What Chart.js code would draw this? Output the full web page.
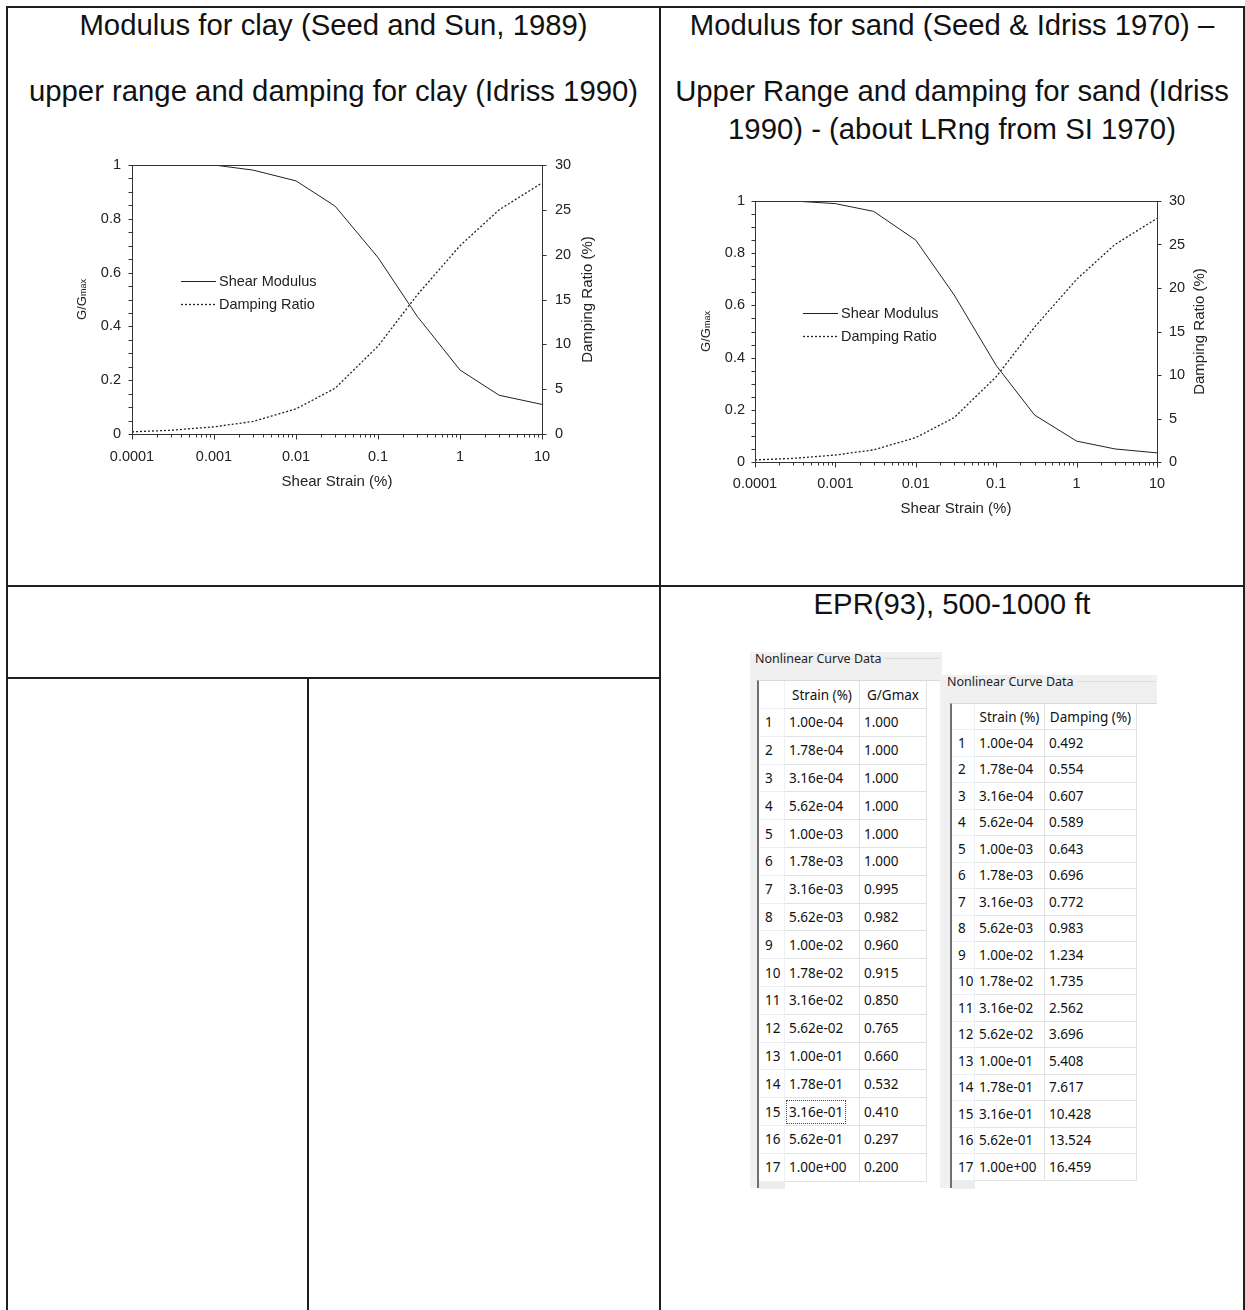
<!DOCTYPE html>
<html>
<head>
<meta charset="utf-8">
<script src="https://cdn.jsdelivr.net/npm/chart.js@4.4.1/dist/chart.umd.min.js"></script>
<style>
  body { margin: 0; background: #fff; width: 1245px; height: 1310px; position: relative; overflow: hidden; }
  .ln { position: absolute; background: #1e1e1e; }
  .ttl { position: absolute; font-family: 'Liberation Sans', Arial, sans-serif; font-size: 29.3px; color: #111;
         line-height: 30px; white-space: nowrap; text-align: center; }
  .cv { position: absolute; }
  .panel { position: absolute; background: #f0f0f0; }
  .glabel { position: absolute; font-family: 'Noto Sans', sans-serif; font-size: 12.5px; color: #222; white-space: nowrap; line-height: 16px; }
  .gline { position: absolute; height: 1px; background: #dcdcdc; }
  .grid { position: absolute; background: #fff; border-left: 2px solid #707070; border-top: 1px solid #dadada; box-sizing: border-box; }
  .row { position: absolute; left: 0; display: flex; }
  .cell { box-sizing: border-box; border-right: 1px solid #e2e2e2; border-bottom: 1px solid #e2e2e2; height: 100%;
          font-family: 'Noto Sans', sans-serif; font-size: 13.5px; color: #111; display: flex; align-items: center;
          padding-left: 4px; white-space: nowrap; }
  .cell.num { border-color: #edf1f6; padding-left: 6px; }
  .cell.hd { justify-content: center; padding-left: 0; }
  .cell.focus span { outline: 1px dotted #444; outline-offset: 2px; }
  .foot { position: absolute; background: #ececec; }
</style>
</head>
<body>

<!-- document table borders -->
<div class="ln" style="left:6px; top:6px; width:1239px; height:2px;"></div>
<div class="ln" style="left:6px; top:6px; width:2px; height:1304px;"></div>
<div class="ln" style="left:659px; top:6px; width:2px; height:1304px;"></div>
<div class="ln" style="left:1243px; top:6px; width:2px; height:1304px;"></div>
<div class="ln" style="left:6px; top:585px; width:1239px; height:2px;"></div>
<div class="ln" style="left:6px; top:677px; width:655px; height:2px;"></div>
<div class="ln" style="left:307px; top:677px; width:2px; height:633px;"></div>

<!-- cell titles -->
<div class="ttl" style="left:8px; width:651px; top:10px;">Modulus for clay (Seed and Sun, 1989)</div>
<div class="ttl" style="left:8px; width:651px; top:76px;">upper range and damping for clay (Idriss 1990)</div>
<div class="ttl" style="left:661px; width:582px; top:10px;">Modulus for sand (Seed &amp; Idriss 1970) –</div>
<div class="ttl" style="left:661px; width:582px; top:76px;">Upper Range and damping for sand (Idriss</div>
<div class="ttl" style="left:661px; width:582px; top:114px;">1990) - (about LRng from SI 1970)</div>
<div class="ttl" style="left:661px; width:582px; top:589px;">EPR(93), 500-1000 ft</div>

<canvas id="clay" class="cv" width="560" height="350" style="left:60px; top:150px;"></canvas>
<canvas id="sand" class="cv" width="560" height="345" style="left:680px; top:185px;"></canvas>

<div id="tables"></div>

<script>
// chart data
const strainPts = [0.0001, 0.0003, 0.001, 0.003, 0.01, 0.03, 0.1, 0.3, 1, 3, 10];
const clayModulus = [1.0, 1.0, 1.0, 0.981, 0.941, 0.847, 0.656, 0.438, 0.238, 0.144, 0.110];
const clayDamping = [0.24, 0.42, 0.8, 1.4, 2.8, 5.1, 9.8, 15.5, 21.0, 25.0, 28.0];
const sandModulus = [1.0, 1.0, 0.99, 0.96, 0.85, 0.64, 0.37, 0.18, 0.08, 0.05, 0.035];
const sandDamping = [0.24, 0.42, 0.8, 1.4, 2.8, 5.1, 9.8, 15.5, 21.0, 25.0, 28.0];

// axis ticks
const xTickValues = [0.0001, 0.001, 0.01, 0.1, 1, 10];
const xTickLabels = ['0.0001', '0.001', '0.01', '0.1', '1', '10'];
const yTickValues = [0, 0.2, 0.4, 0.6, 0.8, 1];
const yTickLabels = ['0', '0.2', '0.4', '0.6', '0.8', '1'];
const y2TickValues = [0, 5, 10, 15, 20, 25, 30];
const y2TickLabels = ['0', '5', '10', '15', '20', '25', '30'];

// EPR(93) table data
const tableStrains = ['1.00e-04', '1.78e-04', '3.16e-04', '5.62e-04', '1.00e-03', '1.78e-03', '3.16e-03', '5.62e-03',
  '1.00e-02', '1.78e-02', '3.16e-02', '5.62e-02', '1.00e-01', '1.78e-01', '3.16e-01', '5.62e-01', '1.00e+00'];
const tableModulus = ['1.000', '1.000', '1.000', '1.000', '1.000', '1.000', '0.995', '0.982', '0.960', '0.915',
  '0.850', '0.765', '0.660', '0.532', '0.410', '0.297', '0.200'];
const tableDamping = ['0.492', '0.554', '0.607', '0.589', '0.643', '0.696', '0.772', '0.983', '1.234', '1.735',
  '2.562', '3.696', '5.408', '7.617', '10.428', '13.524', '16.459'];

const FONT = "'Liberation Sans', Arial, sans-serif";
Chart.defaults.font.family = FONT;
Chart.defaults.color = '#222';

// minor tick positions
const xMinor = [];
xTickValues.slice(0, -1).forEach(d => { for (let m = 2; m <= 9; m++) xMinor.push(d * m); });
const yMinor = [];
for (let i = 1; i < 20; i++) if (i % 4) yMinor.push(i * 0.05);

const framePlugin = {
  id: 'frame',
  afterDraw(chart, args, opts) {
    const { ctx, chartArea: a, scales } = chart;
    ctx.save();
    ctx.strokeStyle = '#333';
    ctx.lineWidth = 1;
    ctx.strokeRect(Math.round(a.left) + 0.5, Math.round(a.top) + 0.5, Math.round(a.right - a.left), Math.round(a.bottom - a.top));
    const seg = (x1, y1, x2, y2) => { ctx.beginPath(); ctx.moveTo(x1, y1); ctx.lineTo(x2, y2); ctx.stroke(); };
    const b = Math.round(a.bottom) + 0.5, l = Math.round(a.left) + 0.5, r = Math.round(a.right) + 0.5;
    xTickValues.forEach(v => { const x = Math.round(scales.x.getPixelForValue(v)) + 0.5; seg(x, b, x, b + 5); });
    xMinor.forEach(v => { const x = Math.round(scales.x.getPixelForValue(v)) + 0.5; seg(x, b, x, b + 3); });
    yTickValues.concat(yMinor).forEach(v => { const y = Math.round(scales.y.getPixelForValue(v)) + 0.5; seg(l - 4, y, l, y); });
    y2TickValues.forEach(v => { const y = Math.round(scales.y2.getPixelForValue(v)) + 0.5; seg(r, y, r + 4, y); });

    // axis titles
    ctx.fillStyle = '#222';
    ctx.textBaseline = 'middle';
    ctx.textAlign = 'center';
    ctx.font = '15px ' + FONT;
    ctx.fillText('Shear Strain (%)', (a.left + a.right) / 2, a.bottom + opts.xTitle);
    const cy = (a.top + a.bottom) / 2;
    ctx.save();
    ctx.translate(a.right + opts.y2Title, cy);
    ctx.rotate(-Math.PI / 2);
    ctx.fillText('Damping Ratio (%)', 0, 0);
    ctx.restore();
    ctx.save();
    ctx.translate(a.left + opts.yTitle, cy);
    ctx.rotate(-Math.PI / 2);
    ctx.textAlign = 'left';
    ctx.font = '13px ' + FONT;
    const w1 = ctx.measureText('G/G').width;
    ctx.font = '9px ' + FONT;
    const w2 = ctx.measureText('max').width;
    ctx.font = '13px ' + FONT;
    ctx.fillText('G/G', -(w1 + w2) / 2, 0);
    ctx.font = '9px ' + FONT;
    ctx.fillText('max', -(w1 + w2) / 2 + w1, 2);
    ctx.restore();

    // in-plot legend
    ctx.font = '14.5px ' + FONT;
    ctx.textAlign = 'left';
    chart.data.datasets.forEach((ds, i) => {
      const y = Math.round(a.top + opts.legY + i * 23) + 0.5;
      const x0 = a.left + opts.legX;
      ctx.setLineDash(ds.borderDash || []);
      ctx.lineWidth = ds.borderWidth;
      ctx.strokeStyle = ds.borderColor;
      seg(x0, y, x0 + 35, y);
      ctx.setLineDash([]);
      ctx.fillText(ds.label, x0 + 38, y);
    });
    ctx.restore();
  }
};

function makeChart(id, modulus, damping, g) {
  const pts = (vals) => strainPts.map((s, i) => ({ x: s, y: vals[i] }));
  const fitV = (w) => (s) => { s.width = w; s.paddingTop = 0; s.paddingBottom = 0; };
  return new Chart(document.getElementById(id), {
    type: 'line',
    data: {
      datasets: [
        { label: 'Shear Modulus', data: pts(modulus), yAxisID: 'y', borderColor: '#222', borderWidth: 1,
          pointRadius: 0, tension: 0, fill: false },
        { label: 'Damping Ratio', data: pts(damping), yAxisID: 'y2', borderColor: '#222', borderWidth: 1.3,
          borderDash: [2, 2], pointRadius: 0, tension: 0, fill: false }
      ]
    },
    options: {
      responsive: false,
      animation: false,
      events: [],
      layout: { padding: { top: g.top, left: 0, right: 0, bottom: 0 } },
      plugins: {
        legend: { display: false },
        tooltip: { enabled: false },
        frame: g.frame
      },
      scales: {
        x: {
          type: 'logarithmic', min: 0.0001, max: 10,
          grid: { display: false, drawTicks: false },
          border: { display: false },
          afterBuildTicks: (s) => { s.ticks = xTickValues.map(v => ({ value: v })); },
          afterFit: (s) => { s.height = g.xH; s.paddingLeft = 0; s.paddingRight = 0; },
          ticks: { autoSkip: false, maxRotation: 0, padding: g.xPad, font: { size: 14.5 },
                   callback: (v, i) => xTickLabels[i] }
        },
        y: {
          position: 'left', min: 0, max: 1,
          grid: { display: false, drawTicks: false },
          border: { display: false },
          afterBuildTicks: (s) => { s.ticks = yTickValues.map(v => ({ value: v })); },
          afterFit: fitV(g.yW),
          ticks: { padding: g.yPad, font: { size: 14.5 }, callback: (v, i) => yTickLabels[i] }
        },
        y2: {
          position: 'right', min: 0, max: 30,
          grid: { display: false, drawTicks: false },
          border: { display: false },
          afterBuildTicks: (s) => { s.ticks = y2TickValues.map(v => ({ value: v })); },
          afterFit: fitV(g.y2W),
          ticks: { padding: g.y2Pad, font: { size: 14.5 }, callback: (v, i) => y2TickLabels[i] }
        }
      }
    },
    plugins: [framePlugin]
  });
}

makeChart('clay', clayModulus, clayDamping, {
  top: 15, xH: 66, yW: 72, y2W: 78, xPad: 14, yPad: 11, y2Pad: 13,
  frame: { xTitle: 48, yTitle: -50, y2Title: 46, legX: 49, legY: 116 }
});
makeChart('sand', sandModulus, sandDamping, {
  top: 16, xH: 68, yW: 75, y2W: 83, xPad: 13, yPad: 10, y2Pad: 12,
  frame: { xTitle: 47, yTitle: -49, y2Title: 43, legX: 48, legY: 112 }
});

// "Nonlinear Curve Data" grids
function makeGrid(cfg, header, values, focusRow) {
  const root = document.getElementById('tables');
  const add = (cls, style, html) => {
    const d = document.createElement('div');
    d.className = cls; d.style.cssText = style;
    if (html) d.innerHTML = html;
    root.appendChild(d);
    return d;
  };
  add('panel', `left:${cfg.px}px; top:${cfg.py}px; width:${cfg.pw}px; height:${cfg.ph}px;`);
  const lab = add('glabel', `left:${cfg.px + 5}px; top:${cfg.py - 1}px;`, 'Nonlinear Curve Data');
  const lw = lab.getBoundingClientRect().width;
  add('gline', `left:${cfg.px + 8 + lw}px; top:${cfg.py + 6}px; width:${cfg.pw - 10 - lw}px;`);
  const grid = add('grid', `left:${cfg.gx}px; top:${cfg.gy}px; width:${cfg.gw}px; height:${cfg.gh}px;`);
  const cols = cfg.cols;
  const mkRow = (top, h, cells, hd) => {
    const r = document.createElement('div');
    r.className = 'row';
    r.style.cssText = `top:${top}px; height:${h}px;`;
    cells.forEach((txt, j) => {
      const c = document.createElement('div');
      c.className = 'cell' + (j === 0 ? ' num' : '') + (hd ? ' hd' : '');
      c.style.width = cols[j] + 'px';
      c.innerHTML = '<span>' + txt + '</span>';
      r.appendChild(c);
    });
    grid.appendChild(r);
    return r;
  };
  const hr = mkRow(0, cfg.hh, ['', header[0], header[1], ''], true);
  hr.lastChild.style.borderRight = 'none';
  hr.lastChild.style.borderBottom = 'none';
  tableStrains.forEach((s, i) => {
    const r = mkRow(cfg.hh + i * cfg.rh, cfg.rh, [String(i + 1), s, values[i]], false);
    if (i === focusRow) r.children[1].classList.add('focus');
  });
  const foot = document.createElement('div');
  foot.className = 'foot';
  foot.style.cssText = `left:0; top:${cfg.hh + 17 * cfg.rh}px; width:${cols[0]}px; height:${cfg.gh - cfg.hh - 17 * cfg.rh}px;`;
  grid.appendChild(foot);
}

makeGrid({ px: 750, py: 652, pw: 192, ph: 536, gx: 757, gy: 680, gw: 183, gh: 508, hh: 28, rh: 27.8,
           cols: [26, 75, 67, 13] }, ['Strain (%)', 'G/Gmax'], tableModulus, 14);
makeGrid({ px: 942, py: 675, pw: 215, ph: 513, gx: 950, gy: 703, gw: 207, gh: 485, hh: 26, rh: 26.5,
           cols: [23, 70, 92, 20] }, ['Strain (%)', 'Damping (%)'], tableDamping, -1);
</script>
</body>
</html>
